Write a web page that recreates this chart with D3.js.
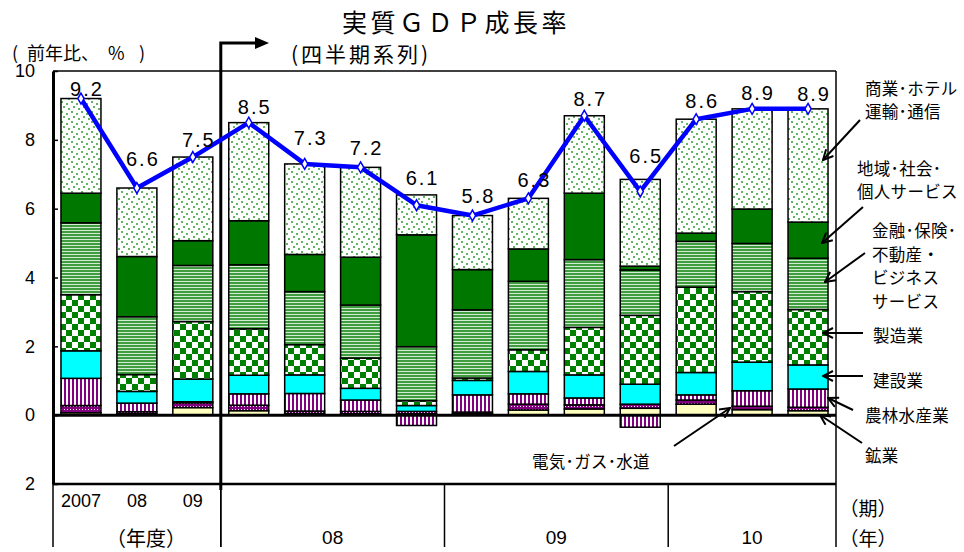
<!DOCTYPE html>
<html>
<head>
<meta charset="utf-8">
<script src="https://cdn.jsdelivr.net/npm/d3@7"></script>
<style>
  html, body { margin: 0; padding: 0; background: #fff; }
  svg { display: block; }
</style>
</head>
<body>
<script>
// ---- data: real GDP growth (% y/y) and sector contributions ----
const categories = ['FY2007', 'FY2008', 'FY2009',
  '2008Q1', '2008Q2', '2008Q3', '2008Q4',
  '2009Q1', '2009Q2', '2009Q3', '2009Q4',
  '2010Q1', '2010Q2', '2010Q3'];
const fiscalTickLabels = ['2007', '08', '09'];
const yearLabels = ['08', '09', '10'];
const yearQuarterCounts = [4, 4, 3];
const yTickValues = [-2, 0, 2, 4, 6, 8, 10];

const totalGrowth   = [9.2, 6.6, 7.5, 8.5, 7.3, 7.2, 6.1, 5.8, 6.3, 8.7, 6.5, 8.6, 8.9, 8.9];
const mining        = [0.07, 0.04, 0.22, 0.13, 0.05, 0.04, 0.04, 0.04, 0.15, 0.18, 0.20, 0.32, 0.16, 0.13];
const electricity   = [0.21, 0.06, 0.14, 0.16, 0.07, 0.07, 0.07, 0.05, 0.17, 0.12, 0.12, 0.12, 0.10, 0.10];
const agriculture   = [0.79, 0.25, 0.03, 0.33, 0.51, 0.33, -0.30, 0.50, 0.30, 0.20, -0.35, 0.15, 0.45, 0.53];
const construction  = [0.80, 0.34, 0.66, 0.54, 0.54, 0.34, 0.17, 0.42, 0.65, 0.67, 0.58, 0.65, 0.83, 0.70];
const manufacturing = [1.63, 0.49, 1.67, 1.35, 0.88, 0.88, 0.14, 0.07, 0.63, 1.38, 2.00, 2.48, 2.05, 1.61];
const finance       = [2.09, 1.68, 1.63, 1.86, 1.54, 1.54, 1.57, 1.98, 1.99, 1.97, 1.32, 1.33, 1.40, 1.49];
const community     = [0.86, 1.75, 0.72, 1.28, 1.08, 1.39, 3.25, 1.17, 0.94, 1.93, 0.11, 0.24, 1.00, 1.05];
const commerce      = [2.75, 1.99, 2.43, 2.85, 2.63, 2.61, 1.16, 1.57, 1.47, 2.25, 2.52, 3.31, 2.91, 3.29];

// stacking order, bottom to top
const sectorKeys = ['mining', 'electricity', 'agriculture', 'construction',
  'manufacturing', 'finance', 'community', 'commerce'];
const sectorSeries = { mining, electricity, agriculture, construction,
  manufacturing, finance, community, commerce };

// ---- layout ----
const W = 964, H = 552;
const plotLeft = 53, plotRight = 836, plotTop = 71, axisBottom = 484, tableBottom = 547;
const FONT_JP = '"Noto Sans CJK JP", "Noto Sans", sans-serif';
const FONT_NUM = '"Liberation Sans", Arial, sans-serif';

const rows = categories.map((c, i) => {
  const r = { cat: c };
  sectorKeys.forEach(k => { r[k] = sectorSeries[k][i]; });
  return r;
});

const x = d3.scaleBand().domain(categories)
  .range([plotLeft, plotRight]).paddingInner(0.285).paddingOuter(0.1425);
const y = d3.scaleLinear().domain([-2, 10]).range([axisBottom, plotTop]);
const cx = c => x(c) + x.bandwidth() / 2;
const boundary = i => plotLeft + i * x.step();

const svg = d3.select('body').append('svg').attr('width', W).attr('height', H);
const defs = svg.append('defs');

// fill patterns for each sector
function pattern(id, w, h, build) {
  const p = defs.append('pattern').attr('id', id).attr('patternUnits', 'userSpaceOnUse')
    .attr('width', w).attr('height', h);
  build(p);
}
pattern('pCommerce', 10, 10, p => {
  p.append('rect').attr('width', 10).attr('height', 10).attr('fill', '#fff');
  [[1, 1], [6, 3], [3, 6], [8, 8]].forEach(([a, b]) =>
    p.append('rect').attr('x', a).attr('y', b).attr('width', 2).attr('height', 2).attr('fill', '#62b562'));
});
pattern('pFinance', 4, 3, p => {
  p.append('rect').attr('width', 4).attr('height', 3).attr('fill', '#3f9c3f');
  p.append('rect').attr('y', 2).attr('width', 4).attr('height', 1).attr('fill', '#d2ecd2');
});
pattern('pManuf', 12, 12, p => {
  p.append('rect').attr('width', 12).attr('height', 12).attr('fill', '#fff');
  p.append('rect').attr('width', 6).attr('height', 6).attr('fill', '#008000');
  p.append('rect').attr('x', 6).attr('y', 6).attr('width', 6).attr('height', 6).attr('fill', '#008000');
});
pattern('pAgri', 4, 4, p => {
  p.append('rect').attr('width', 4).attr('height', 4).attr('fill', '#fff');
  p.append('rect').attr('width', 2).attr('height', 4).attr('fill', '#800080');
});
pattern('pElec', 3, 3, p => {
  p.append('rect').attr('width', 3).attr('height', 3).attr('fill', '#800080');
  p.append('rect').attr('x', 1).attr('y', 1).attr('width', 1).attr('height', 1).attr('fill', '#fff');
});

const fills = {
  mining: '#ffffc0',
  electricity: 'url(#pElec)',
  agriculture: 'url(#pAgri)',
  construction: '#00ffff',
  manufacturing: 'url(#pManuf)',
  finance: 'url(#pFinance)',
  community: '#007800',
  commerce: 'url(#pCommerce)'
};

// ---- stacked bars ----
const stacked = d3.stack().keys(sectorKeys).offset(d3.stackOffsetDiverging)(rows);
svg.append('g').selectAll('g').data(stacked).join('g')
  .attr('fill', d => fills[d.key])
  .selectAll('rect').data(d => d).join('rect')
  .attr('x', d => x(d.data.cat))
  .attr('width', x.bandwidth())
  .attr('y', d => y(Math.max(d[0], d[1])))
  .attr('height', d => Math.abs(y(d[0]) - y(d[1])))
  .attr('stroke', '#000').attr('stroke-width', 1.5);

// ---- frame, axis and table lines ----
const frame = svg.append('g').attr('stroke', '#000').attr('fill', 'none');
frame.append('line').attr('x1', plotLeft).attr('x2', plotRight).attr('y1', plotTop).attr('y2', plotTop).attr('stroke-width', 1.5);
frame.append('line').attr('x1', plotRight).attr('x2', plotRight).attr('y1', plotTop).attr('y2', tableBottom).attr('stroke-width', 1.5);
frame.append('line').attr('x1', plotLeft).attr('x2', plotRight).attr('y1', y(0)).attr('y2', y(0)).attr('stroke-width', 3);
frame.append('line').attr('x1', plotLeft).attr('x2', plotRight).attr('y1', y(-2)).attr('y2', y(-2)).attr('stroke-width', 2.5);
frame.append('line').attr('x1', plotLeft).attr('x2', plotLeft).attr('y1', y(-2)).attr('y2', tableBottom).attr('stroke-width', 1.5);
[3, 7, 11].forEach(i => {
  frame.append('line').attr('x1', boundary(i)).attr('x2', boundary(i))
    .attr('y1', y(-2)).attr('y2', tableBottom).attr('stroke-width', 1.5);
});

// y axis with inner ticks; negative values shown without sign
const yAxis = d3.axisLeft(y).tickValues(yTickValues).tickSizeInner(-5).tickSizeOuter(0)
  .tickPadding(18).tickFormat(d => Math.abs(d));
const gy = svg.append('g').attr('transform', `translate(${plotLeft},0)`).call(yAxis);
gy.select('.domain').attr('stroke-width', 3);
gy.selectAll('.tick line').attr('stroke-width', 1.5);
gy.selectAll('.tick text').attr('font-family', FONT_NUM).attr('font-size', 18).attr('fill', '#000');

// fiscal-year / quarterly separator with arrow
const sepX = boundary(3);
svg.append('path')
  .attr('d', `M${sepX},${axisBottom + 6} V43 H257`)
  .attr('fill', 'none').attr('stroke', '#000').attr('stroke-width', 3);
svg.append('line').attr('x1', sepX).attr('x2', sepX).attr('y1', axisBottom).attr('y2', tableBottom)
  .attr('stroke', '#000').attr('stroke-width', 1.5);
svg.append('path').attr('d', 'M255,37 L269,43 L255,49 Z').attr('fill', '#000');

// ---- GDP growth line ----
svg.append('path').datum(totalGrowth)
  .attr('d', d3.line().x((d, i) => cx(categories[i])).y(d => y(d)))
  .attr('fill', 'none').attr('stroke', '#0000ff').attr('stroke-width', 4.5)
  .attr('stroke-linejoin', 'round');
svg.append('g').selectAll('path').data(totalGrowth).join('path')
  .attr('transform', (d, i) => `translate(${cx(categories[i])},${y(d)})`)
  .attr('d', d3.symbol(d3.symbolDiamond, 34))
  .attr('fill', '#fff').attr('stroke', '#0000ff').attr('stroke-width', 1.5);

// value labels above the line (per-label lift in px)
const labelLift = [3, 22, 10, 9, 19, 12, 20, 13, 11, 10, 28, 11, 9, 8];
svg.append('g').selectAll('text').data(totalGrowth).join('text')
  .attr('x', (d, i) => cx(categories[i]) + 6)
  .attr('y', (d, i) => y(d) - labelLift[i])
  .attr('text-anchor', 'middle')
  .attr('font-family', FONT_NUM).attr('font-size', 20).attr('letter-spacing', 2)
  .attr('fill', '#000')
  .text(d => d.toFixed(1));

// ---- titles ----
function jp(txt, xPos, yPos, size, opts = {}) {
  return svg.append('text').attr('x', xPos).attr('y', yPos)
    .attr('dominant-baseline', 'central')
    .attr('text-anchor', opts.anchor || 'start')
    .attr('letter-spacing', opts.spacing || 0)
    .attr('font-family', FONT_JP).attr('font-size', size).attr('fill', '#000')
    .text(txt);
}
jp('実質ＧＤＰ成長率', 342, 21, 25, { spacing: 3.5 });
jp('(四半期系列)', 291, 53, 21, { spacing: 3 });
jp('(', 12, 52, 18);
jp('前年比、', 27, 52, 18);
jp('%', 108, 52, 18);
jp(')', 139, 52, 18);

// ---- category table ----
fiscalTickLabels.forEach((t, i) => {
  svg.append('text').attr('x', cx(categories[i])).attr('y', 501)
    .attr('dominant-baseline', 'central').attr('text-anchor', 'middle')
    .attr('font-family', FONT_NUM).attr('font-size', 18).attr('fill', '#000').text(t);
});
jp('（年度）', 146, 537, 20, { anchor: 'middle' });
let start = 3;
yearLabels.forEach((t, j) => {
  const mid = (boundary(start) + boundary(start + yearQuarterCounts[j])) / 2;
  svg.append('text').attr('x', mid).attr('y', 537)
    .attr('dominant-baseline', 'central').attr('text-anchor', 'middle')
    .attr('font-family', FONT_NUM).attr('font-size', 19).attr('fill', '#000').text(t);
  start += yearQuarterCounts[j];
});
jp('（期）', 868, 507, 19, { anchor: 'middle' });
jp('（年）', 868, 537, 19, { anchor: 'middle' });

// ---- sector callouts ----
defs.append('marker').attr('id', 'openArrow').attr('viewBox', '0 0 12 12')
  .attr('refX', 11).attr('refY', 6).attr('markerWidth', 12).attr('markerHeight', 12)
  .attr('markerUnits', 'userSpaceOnUse').attr('orient', 'auto')
  .append('path').attr('d', 'M1,1 L11,6 L1,11').attr('fill', 'none')
  .attr('stroke', '#000').attr('stroke-width', 2);

const lineGap = 23.5;
const callouts = [
  { lines: ['商業･ホテル', '運輸･通信'], x: 865, y: 99.5, from: [860, 120], to: [823, 160] },
  { lines: ['地域･社会･', '個人サービス'], x: 857, y: 179.5, from: [863, 207], to: [822, 243] },
  { lines: ['金融･保険･', '不動産・', 'ビジネス', 'サービス'], x: 872, y: 265.5, from: [865, 253], to: [825, 282] },
  { lines: ['製造業'], x: 873, y: 335, from: [863, 333], to: [823, 333] },
  { lines: ['建設業'], x: 873, y: 380, from: [863, 376], to: [823, 376] },
  { lines: ['農林水産業'], x: 865, y: 415, from: [853, 410], to: [828, 398] },
  { lines: ['鉱業'], x: 865, y: 455, from: [862, 443], to: [820, 415] },
  { lines: ['電気･ガス･水道'], x: 532, y: 461, from: [674, 446], to: [730, 408] }
];
callouts.forEach(c => {
  // each line centred around the callout's mid height
  const n = c.lines.length;
  c.lines.forEach((line, k) => {
    jp(line, c.x, c.y + (k - (n - 1) / 2) * lineGap, 16.5, { spacing: 0.3 });
  });
  svg.append('line')
    .attr('x1', c.from[0]).attr('y1', c.from[1]).attr('x2', c.to[0]).attr('y2', c.to[1])
    .attr('stroke', '#000').attr('stroke-width', 2).attr('marker-end', 'url(#openArrow)');
});
</script>
</body>
</html>
